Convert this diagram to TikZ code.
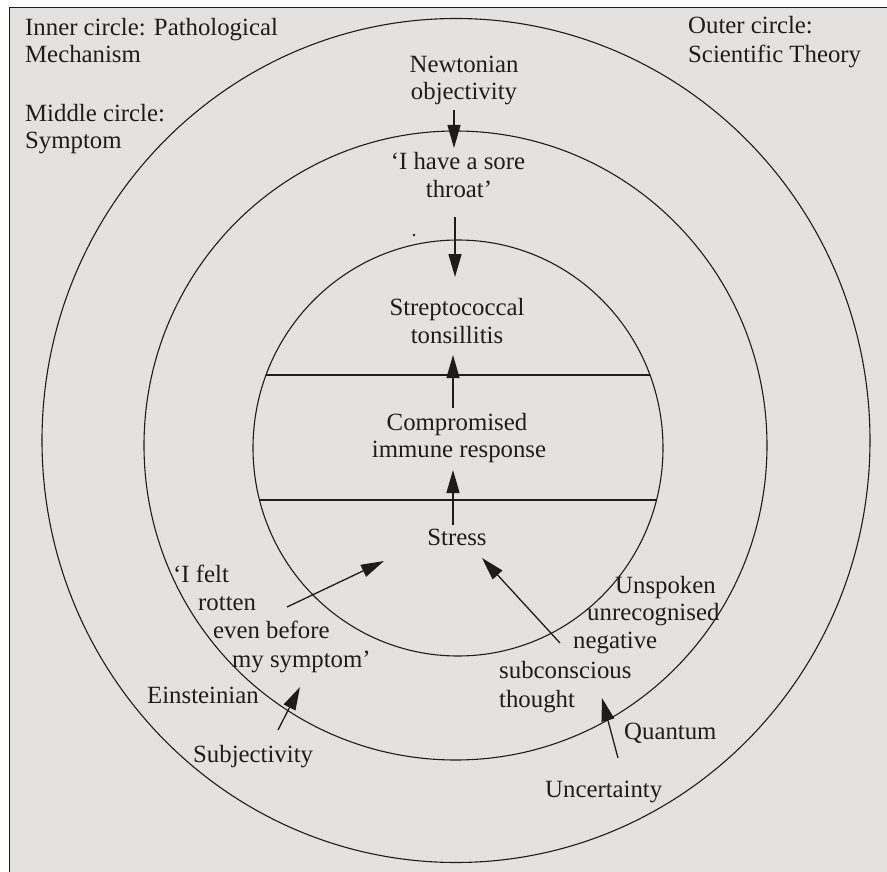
\documentclass[tikz,border=0pt]{standalone}
\usepackage{fontspec}
\setmainfont{Liberation Serif}
\usetikzlibrary{arrows.meta}
\definecolor{paper}{RGB}{228,226,225}
\definecolor{ink}{RGB}{30,28,28}
\tikzset{
  lbl/.style={inner sep=0pt, text=ink, font=\fontsize{24.8}{27}\selectfont},
  ring/.style={draw=ink, line width=1.1pt},
  arr/.style={draw=ink, line width=1.3pt, -{Triangle[length=23pt,width=13pt]}},
}
\begin{document}
\begin{tikzpicture}[x=1pt,y=-1pt]
\useasboundingbox (0,0) rectangle (887,872);
\fill[white] (0,0) rectangle (887,872);
\fill[paper] (9,8) rectangle (887,872);
\draw[ink, line width=1pt] (9,872) -- (9,8) -- (887,8);

% circles
\draw[ring] (456,440.5) ellipse [x radius=414, y radius=422];
\draw[ring] (455.5,445.5) ellipse [x radius=311.5, y radius=314.5];
\draw[ring] (458,448) ellipse [x radius=205, y radius=208];
\begin{scope}
  \clip (458,448) ellipse [x radius=205, y radius=208];
  \draw[ring] (200,375) -- (720,375);
  \draw[ring] (200,500) -- (720,500);
\end{scope}
\fill[ink] (414,235) circle (1.3);

% corner legends
\node[lbl, anchor=base west] (in1) at (25,36) {Inner circle: Pathological};
\node[lbl, anchor=base west] (in2) at (25,63) {Mechanism};
\node[lbl, anchor=base west] (mid1) at (25,122) {Middle circle:};
\node[lbl, anchor=base west] (mid2) at (25,149) {Symptom};
\node[lbl, anchor=base west] (out1) at (688,34) {Outer circle:};
\node[lbl, anchor=base west] (out2) at (688,63) {Scientific Theory};

% central column
\node[lbl, anchor=base] (newt) at (464,73) {Newtonian};
\node[lbl, anchor=base] (obj) at (464,100) {objectivity};
\node[lbl, anchor=base] (sore1) at (458,170) {‘I have a sore};
\node[lbl, anchor=base] (sore2) at (459,198) {throat’};
\node[lbl, anchor=base] (strep) at (457,315) {Streptococcal};
\node[lbl, anchor=base] (tons) at (457,343) {tonsillitis};
\node[lbl, anchor=base] (comp) at (457,430) {Compromised};
\node[lbl, anchor=base] (imm) at (459,457) {immune response};
\node[lbl, anchor=base] (stress) at (457,545) {Stress};

% left side
\node[lbl, anchor=base west] (felt1) at (173,582) {‘I felt};
\node[lbl, anchor=base west] (felt2) at (198,610) {rotten};
\node[lbl, anchor=base west] (felt3) at (213,638) {even before};
\node[lbl, anchor=base west] (felt4) at (232,667) {my symptom’};
\node[lbl, anchor=base west] (ein) at (147,703) {Einsteinian};
\node[lbl, anchor=base west] (subj) at (193,762) {Subjectivity};

% right side
\node[lbl, anchor=base west] (un1) at (615,593) {Unspoken};
\node[lbl, anchor=base west] (un2) at (587,620) {unrecognised};
\node[lbl, anchor=base west] (un3) at (573,648) {negative};
\node[lbl, anchor=base west] (un4) at (499,678) {subconscious};
\node[lbl, anchor=base west] (un5) at (499,707) {thought};
\node[lbl, anchor=base west] (quant) at (624,739) {Quantum};
\node[lbl, anchor=base west] (unc) at (545,797) {Uncertainty};

% arrow end points
\coordinate (a1s) at (454,110); \coordinate (a1e) at (454,148);
\coordinate (a2s) at (455,217); \coordinate (a2e) at (455,277);
\coordinate (a3s) at (453,408); \coordinate (a3e) at (453,355);
\coordinate (a4s) at (453,525); \coordinate (a4e) at (453,470);
\coordinate (a5s) at (287,607); \coordinate (a5e) at (384,561);
\coordinate (a6s) at (560,643); \coordinate (a6e) at (482,558);
\coordinate (a7s) at (278,730); \coordinate (a7e) at (300,687);
\coordinate (a8s) at (618,758); \coordinate (a8e) at (602,698);

\draw[arr] (a1s) -- (a1e);
\draw[arr] (a2s) -- (a2e);
\draw[arr] (a3s) -- (a3e);
\draw[arr] (a4s) -- (a4e);
\draw[arr] (a5s) -- (a5e);
\draw[arr] (a6s) -- (a6e);
\draw[arr] (a7s) -- (a7e);
\draw[arr] (a8s) -- (a8e);
\end{tikzpicture}
\end{document}
